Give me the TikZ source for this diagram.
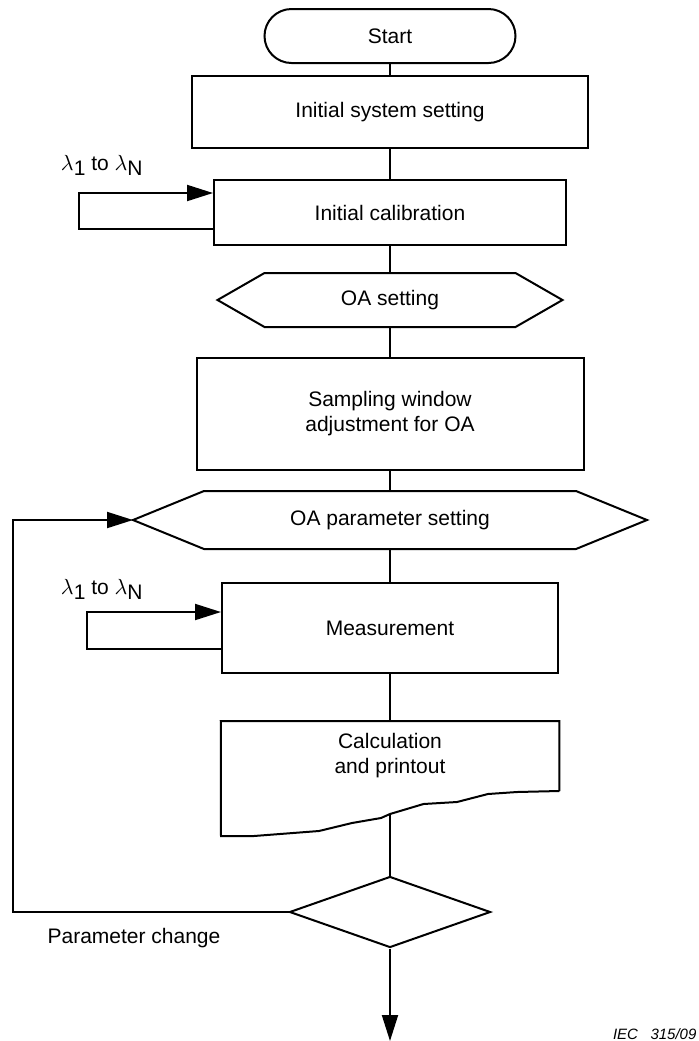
\documentclass[tikz,border=0pt]{standalone}
\usepackage{fontspec}
\setmainfont{Liberation Sans}
\usetikzlibrary{positioning, arrows.meta, shapes.geometric, calc}

\tikzset{
    term/.style={draw, rounded corners=13.5pt, minimum width=125.5pt, minimum height=27pt, inner sep=0pt},
    box/.style={draw, align=center, inner sep=0pt},
    hexnode/.style={draw=none, align=center, inner sep=0pt, outer sep=0pt},
    decision/.style={draw, diamond, inner sep=0pt, minimum width=100.5pt, minimum height=35.5pt},
    arr/.style={-{Triangle[length=13pt, width=8pt]}},
    lbl/.style={inner sep=0pt}
}

% hexagon round a node: name, depth of the point
\newcommand{\drawhex}[2]{%
    \draw (#1.north west) -- (#1.north east) -- ([xshift=#2]#1.east)
        -- (#1.south east) -- (#1.south west) -- ([xshift=-#2]#1.west) -- cycle;
}

\begin{document}
\begin{tikzpicture}[x=0.5pt, y=-0.5pt, line width=1pt,
        font=\fontsize{10.5}{12.5}\selectfont]
    \useasboundingbox (0,0) rectangle (699,1041);

    % main column
    \node[term] (start) at (390,36) {Start};
    \node[box, minimum width=198pt, minimum height=36pt] (init) at (390,112) {Initial system setting};
    \node[box, minimum width=176pt, minimum height=32.5pt] (calib) at (390,212.5) {Initial calibration};
    \node[hexnode, minimum width=125.5pt, minimum height=27pt] (oaset) at (390,300) {OA setting};
    \node[box, minimum width=193.5pt, minimum height=56pt] (samp) at (390,414) {Sampling window\\adjustment for OA};
    \node[hexnode, minimum width=186pt, minimum height=29pt] (oapar) at (390,520) {OA parameter setting};
    \node[box, minimum width=168pt, minimum height=45pt] (meas) at (390,628) {Measurement};
    \node[hexnode, minimum width=169.25pt, minimum height=35pt] (calc) at (390,756) {Calculation\\and printout};
    \node[decision] (dec) at (390,912) {};

    \drawhex{oaset}{23.5pt}
    \drawhex{oapar}{35.5pt}

    % document shape with torn bottom
    \coordinate (calcout) at (390,814);
    \draw (calc.south east) -- (calc.north east) -- (calc.north west) -- (221,836)
        -- (254,836) -- (319,831) -- (352,823) -- (381,818) -- (calcout)
        -- (423.5,804) -- (457,802) -- (488,794) -- (517,792) -- (calc.south east);

    % connectors
    \draw (start) -- (init);
    \draw (init) -- (calib);
    \draw (calib) -- (oaset);
    \draw (oaset) -- (samp);
    \draw (samp) -- (oapar);
    \draw (oapar) -- (meas);
    \draw (meas) -- (calc);
    \draw (calcout) -- (dec);

    \coordinate (exit) at (390,1041);
    \draw[arr] (dec) -- (exit);

    % feedback to parameter setting
    \coordinate (fb) at (12.5,912);
    \coordinate (ptip) at ([xshift=-35.5pt]oapar.west);
    \draw[arr] (dec.west) -- (fb) |- (ptip);

    % wavelength loops
    \coordinate (cl1) at (79,229);
    \coordinate (cl2) at (79,193);
    \draw[arr] (calib.west |- cl1) -- (cl1) -- (cl2) -- (calib.west |- cl2);

    \coordinate (ml1) at (87,649);
    \coordinate (ml2) at (87,612);
    \draw[arr] (meas.west |- ml1) -- (ml1) -- (ml2) -- (meas.west |- ml2);

    % labels
    \node[lbl, anchor=base west] (lam1) at (60,170) {$\lambda$\raisebox{-0.5ex}{1} to $\lambda$\raisebox{-0.5ex}{N}};
    \node[lbl, anchor=base west] (lam2) at (60,594) {$\lambda$\raisebox{-0.5ex}{1} to $\lambda$\raisebox{-0.5ex}{N}};
    \node[lbl] (pchg) at (134,938) {Parameter change};
    \node[lbl, anchor=base west, font=\fontsize{7.5}{9}\selectfont\itshape] (iec) at (612,1039) {IEC\ \ \ 315/09};
\end{tikzpicture}
\end{document}
